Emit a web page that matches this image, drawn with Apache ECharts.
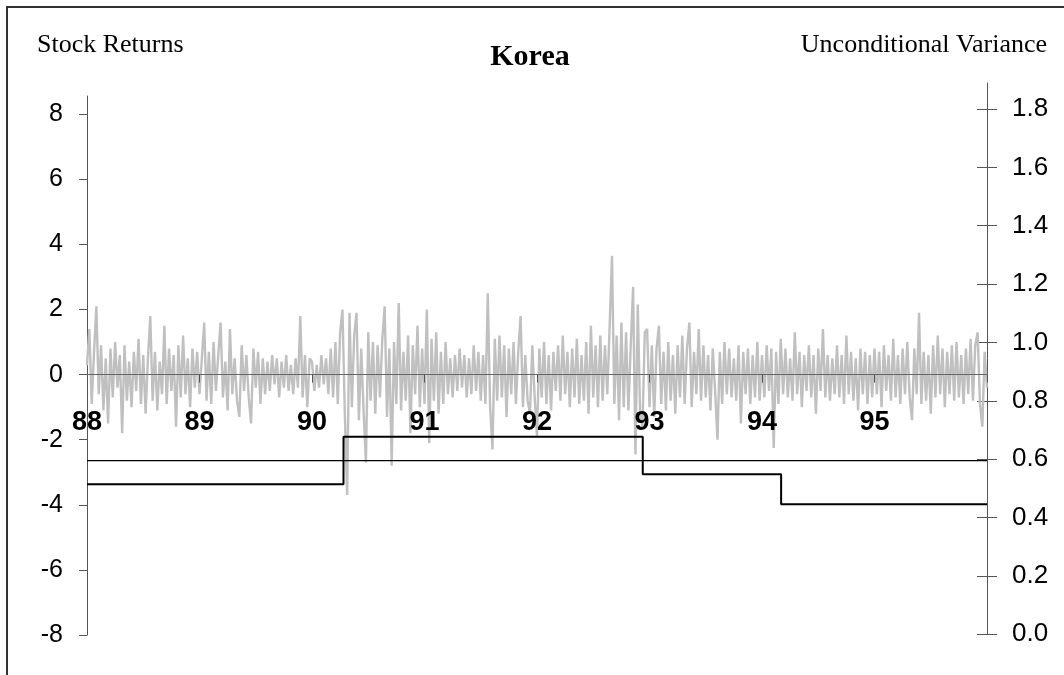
<!DOCTYPE html>
<html>
<head>
<meta charset="utf-8">
<title>Korea</title>
<script src="https://cdn.jsdelivr.net/npm/echarts@6/dist/echarts.min.js"></script>
<style>
  html, body { margin: 0; padding: 0; background: #fff; }
  #chart { width: 1064px; height: 675px; }
</style>
</head>
<body>
<div id="chart"></div>
<script>
// Year labels along the time axis (one block of 48 observations per year)
var yearLabels = ['88', '89', '90', '91', '92', '93', '94', '95'];
var obsPerYear = 48;

// Stock returns, 48 observations per year, 1988 through 1995 plus closing point
var returns88 = [
  0.3, 1.4, -0.9, 0.7, 2.1, -0.6, 0.9, -1.1, 0.5, -1.5,
  0.8, -0.7, 1.0, -0.4, 0.6, -1.8, 0.9, -0.8, 0.4, -1.0,
  0.7, -0.5, 1.1, -0.9, 0.6, -1.2, 0.5, 1.8, -0.8, 0.7,
  -1.1, 0.4, -0.6, 1.5, -0.9, 0.8, -0.5, 0.6, -1.6, 0.9,
  -0.7, 1.2, -0.6, 0.5, -1.0, 0.8, -0.4, 0.7
];
var returns89 = [
  -0.6, 0.5, 1.6, -0.8, 0.7, -0.9, 1.0, -0.5, 0.6, 1.6,
  -0.7, 0.4, -1.1, 1.4, -0.6, 0.5, -0.8, -1.3, 0.9, -0.5,
  0.6, -0.7, -1.5, 0.8, -0.4, 0.7, -0.9, 0.5, -0.6, 0.4,
  -0.5, 0.6, -0.3, 0.5, -0.7, 0.4, -0.4, 0.6, -0.5, 0.3,
  -0.6, 0.5, -0.4, 1.8, -0.7, 0.6, -1.0, 0.5
];
var returns90 = [
  0.4, -0.5, 0.3, -0.4, 0.6, -0.3, 0.5, -0.6, 0.8, -0.7,
  1.0, -0.9, 1.3, 2.0, -1.2, -3.7, 1.9, -1.0, 1.2, 1.9,
  -1.4, 0.8, -1.1, -2.7, 1.3, -0.8, 1.0, -1.2, 0.9, -0.7,
  1.1, 2.1, -1.3, 0.8, -2.8, 1.0, -0.9, 2.2, -1.1, 0.7,
  -0.8, 1.2, -1.8, 0.9, -0.6, 1.5, -1.0, 0.8
];
var returns91 = [
  -0.9, 2.0, -2.1, 1.1, -0.8, 1.3, -1.2, 0.7, -0.9, 1.0,
  -0.6, 0.5, -0.7, 0.6, -0.5, 0.8, -0.4, 0.6, -0.7, 0.5,
  -0.6, 0.9, -0.5, 0.7, -0.8, 0.6, -0.9, 2.5, -1.0, -2.3,
  1.1, -0.8, 1.2, -0.7, 0.9, -1.3, 0.8, -0.6, 1.0, -0.9,
  0.7, 1.8, -1.0, 0.6, -0.8, -1.2, 0.9, -0.7
];
var returns92 = [
  -1.9, 0.8, -0.7, 1.0, -0.9, 0.6, -1.1, 0.7, -0.5, 0.9,
  -0.8, 1.2, -0.6, 0.7, -1.0, 0.8, -0.7, 1.1, -0.9, 0.6,
  -0.8, 1.0, -1.2, 1.5, -0.7, 0.9, -1.0, 1.2, -0.8, 0.9,
  -0.6, 1.5, 3.65, -0.9, 1.2, -1.4, 1.6, -1.0, 1.3, -1.1,
  0.9, 2.7, -2.45, 2.15, -1.2, -1.6, 1.3, 1.4
];
var returns93 = [
  -1.0, 0.9, -1.3, 0.8, 1.5, -0.9, 0.7, -1.1, 1.0, -0.8,
  0.6, -1.2, 0.9, -0.7, 1.2, -0.9, 0.8, 1.6, -1.0, 0.7,
  -0.6, 1.4, -0.8, 0.9, -0.7, 0.6, -1.1, 0.8, -0.5, -2.0,
  0.7, -0.9, 1.0, -0.6, 0.8, -0.7, 0.5, -0.8, 0.9, -1.5,
  0.7, -0.6, 0.8, -0.9, 0.6, -0.7, 1.0, -0.8
];
var returns94 = [
  0.6, -0.7, 0.9, -0.5, 0.8, -2.25, 0.7, -0.9, 1.1, -0.6,
  0.8, -0.7, 0.5, -0.8, 1.3, -0.6, 0.7, -1.0, 0.6, -0.5,
  0.9, -0.7, 0.6, -1.2, 0.8, -0.5, 1.4, -0.7, 0.6, -0.8,
  0.5, -0.6, 0.9, -0.7, 0.6, -0.9, 1.2, -0.6, 0.7, -0.8,
  0.5, -1.1, 0.8, -0.6, 0.7, -0.9, 0.6, -0.7
];
var returns95 = [
  0.8, -0.6, 0.7, -1.0, 0.9, -0.5, 0.6, -0.8, 1.1, -0.7,
  0.6, -0.9, 0.8, -0.6, 1.0, -0.7, -1.4, 0.8, -0.6, 1.9,
  -0.9, 0.7, -0.8, 0.6, -1.2, 0.9, -0.7, 1.2, -0.6, 0.8,
  -1.0, 0.7, -0.6, 0.9, -0.8, 1.0, -0.7, 0.6, -0.9, 0.8,
  -0.6, 1.1, -0.8, 0.9, 1.3, -0.9, -1.6, 0.7,
  -0.4
];

// Unconditional variance: regime break dates (in years) and level per regime
var breakYears = [88, 90.28, 92.94, 94.17, 96];
var regimeVariance = [0.514, 0.677, 0.548, 0.446];
// Full-sample unconditional variance
var overallVariance = 0.595;

// Axis tick values
var leftTicks = [-8, -6, -4, -2, 0, 2, 4, 6, 8];
var rightTicks = [0, 0.2, 0.4, 0.6, 0.8, 1.0, 1.2, 1.4, 1.6, 1.8];

// ---- build series data ----
var returns = [].concat(returns88, returns89, returns90, returns91,
                        returns92, returns93, returns94, returns95);
var categories = returns.map(function (v, i) {
  return (i % obsPerYear === 0 && i / obsPerYear < yearLabels.length)
    ? yearLabels[i / obsPerYear] : '';
});

var stepData = regimeVariance.map(function (v, i) { return [breakYears[i], v]; });
stepData.push([breakYears[breakYears.length - 1], regimeVariance[regimeVariance.length - 1]]);
var overallData = [[breakYears[0], overallVariance], [breakYears[breakYears.length - 1], overallVariance]];

// returns axis geometry: -8..8.56 over the plot height
var retMin = -8, retMax = 8.56;
var plotTop = 96, plotHeight = 539;
// shift the time axis from the bottom edge up to the zero line
var zeroOffset = -plotHeight * (0 - retMin) / (retMax - retMin);

var sansFont = '"Liberation Sans", Arial, sans-serif';
var serifFont = '"Liberation Serif", "Times New Roman", serif';
var axisGrey = '#555555';

var chart = echarts.init(document.getElementById('chart'));
chart.setOption({
  animation: false,
  backgroundColor: '#ffffff',
  grid: [
    { left: 87, right: 77, top: plotTop, height: plotHeight },
    { left: 87, right: 77, top: 83, height: 551.3 }
  ],
  xAxis: [
    {
      type: 'category', gridIndex: 0, data: categories, boundaryGap: false,
      position: 'bottom', offset: zeroOffset, z: 3,
      axisLine: { onZero: false, lineStyle: { color: '#666', width: 1 } },
      axisTick: { interval: obsPerYear - 1, length: 8, lineStyle: { color: axisGrey } },
      axisLabel: {
        interval: obsPerYear - 1, margin: 34, color: '#000',
        fontFamily: sansFont, fontWeight: 'bold', fontSize: 27
      },
      splitLine: { show: false }
    },
    {
      type: 'value', gridIndex: 1, min: 88, max: 96, show: false
    }
  ],
  yAxis: [
    {
      type: 'value', gridIndex: 0, position: 'left', min: retMin, max: retMax,
      axisLine: { show: true, onZero: false, lineStyle: { color: axisGrey } },
      axisTick: { show: true, length: 8, customValues: leftTicks, lineStyle: { color: axisGrey } },
      axisLabel: {
        customValues: leftTicks, margin: 24, color: '#000',
        fontFamily: sansFont, fontSize: 25
      },
      splitLine: { show: false }
    },
    {
      type: 'value', gridIndex: 1, position: 'right', min: 0, max: 1.889,
      axisLine: { show: true, onZero: false, lineStyle: { color: axisGrey } },
      axisTick: { show: true, length: 10, customValues: rightTicks, lineStyle: { color: axisGrey } },
      axisLabel: {
        customValues: rightTicks, margin: 25, color: '#000',
        fontFamily: sansFont, fontSize: 26,
        formatter: function (v) { return v.toFixed(1); }
      },
      splitLine: { show: false }
    },
    {
      // inner half of the right-hand tick marks
      type: 'value', gridIndex: 1, position: 'right', min: 0, max: 1.889,
      axisLine: { show: false, onZero: false },
      axisTick: { show: true, inside: true, length: 10, customValues: rightTicks, lineStyle: { color: axisGrey } },
      axisLabel: { show: false },
      splitLine: { show: false }
    }
  ],
  series: [
    {
      name: 'Stock Returns', type: 'line', xAxisIndex: 0, yAxisIndex: 0,
      data: returns, showSymbol: false, z: 2,
      lineStyle: { color: '#c0c0c0', width: 2.4 }
    },
    {
      name: 'Unconditional Variance', type: 'line', xAxisIndex: 1, yAxisIndex: 1,
      data: overallData, showSymbol: false, z: 3,
      lineStyle: { color: '#000', width: 1.3 }
    },
    {
      name: 'Regime Variance', type: 'line', xAxisIndex: 1, yAxisIndex: 1,
      data: stepData, step: 'end', showSymbol: false, z: 4,
      lineStyle: { color: '#000', width: 2 }
    }
  ],
  graphic: [
    {
      type: 'rect', silent: true, z: 0,
      shape: { x: 7, y: 7, width: 1200, height: 800 },
      style: { fill: 'none', stroke: '#333', lineWidth: 2 }
    },
    {
      type: 'text', x: 37, y: 45,
      style: { text: 'Stock Returns', font: '26px ' + serifFont, fill: '#000',
               textAlign: 'left', textVerticalAlign: 'middle' }
    },
    {
      type: 'text', x: 530, y: 57,
      style: { text: 'Korea', font: 'bold 30px ' + serifFont, fill: '#000',
               textAlign: 'center', textVerticalAlign: 'middle' }
    },
    {
      type: 'text', x: 1047, y: 45,
      style: { text: 'Unconditional Variance', font: '26px ' + serifFont, fill: '#000',
               textAlign: 'right', textVerticalAlign: 'middle' }
    }
  ]
});
</script>
</body>
</html>
